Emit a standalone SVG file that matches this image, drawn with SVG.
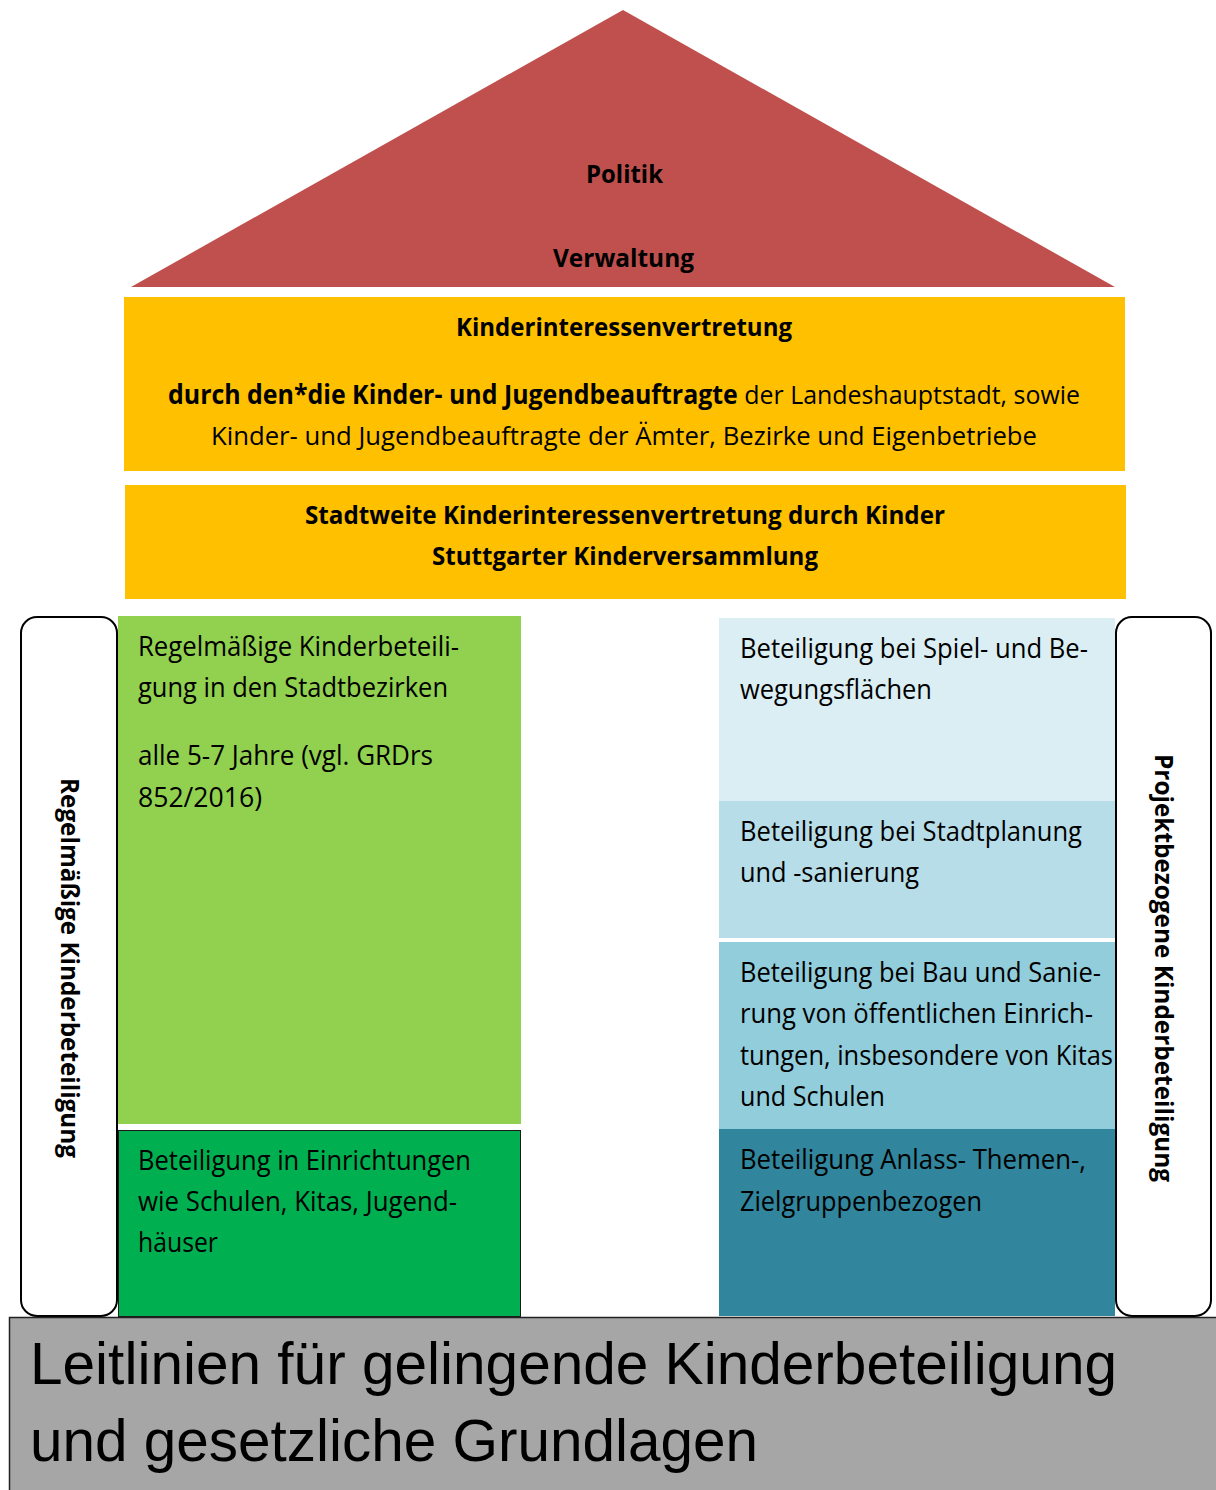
<svg xmlns="http://www.w3.org/2000/svg" width="1216" height="1490" viewBox="0 0 1216 1490">
<style>
.b{font-family:"Open Sans","Noto Sans",sans-serif;font-size:28px;fill:#000}
.h{font-family:"Open Sans","Noto Sans",sans-serif;font-size:25px;font-weight:bold;fill:#000}
.m{font-family:"Open Sans","Noto Sans",sans-serif;font-size:26px;fill:#000}
.v{font-family:"Open Sans","Noto Sans",sans-serif;font-size:25px;font-weight:bold;fill:#000}
.f{font-family:"Liberation Sans",Arial,sans-serif;font-size:60px;fill:#000}
.pill{fill:#fff;stroke:#000;stroke-width:2}
</style>
<rect width="1216" height="1490" fill="#fff"/>
<g id="roof">
<polygon points="623,10 131,287 1115,287" fill="#C0504D"/>
<text class="h" x="586" y="183" textLength="77" lengthAdjust="spacingAndGlyphs">Politik</text>
<text class="h" x="553" y="267" textLength="141" lengthAdjust="spacingAndGlyphs">Verwaltung</text>
</g>
<g id="kiv">
<rect x="124" y="297" width="1001" height="174" fill="#FFC000"/>
<text class="h" x="456" y="336" textLength="336" lengthAdjust="spacingAndGlyphs">Kinderinteressenvertretung</text>
<text class="m" x="168" y="404" textLength="912" lengthAdjust="spacingAndGlyphs"><tspan font-weight="bold">durch den*die Kinder- und Jugendbeauftragte</tspan> der Landeshauptstadt, sowie</text>
<text class="m" x="211" y="445" textLength="826" lengthAdjust="spacingAndGlyphs">Kinder- und Jugendbeauftragte der Ämter, Bezirke und Eigenbetriebe</text>
</g>
<g id="stadtweit">
<rect x="125" y="485" width="1001" height="114" fill="#FFC000"/>
<text class="h" x="305" y="524" textLength="640" lengthAdjust="spacingAndGlyphs">Stadtweite Kinderinteressenvertretung durch Kinder</text>
<text class="h" x="432" y="565" textLength="386" lengthAdjust="spacingAndGlyphs">Stuttgarter Kinderversammlung</text>
</g>
<g id="pillar-left">
<rect class="pill" x="21" y="617" width="96" height="699" rx="16"/>
<text class="v" transform="translate(61,968) rotate(90)" text-anchor="middle" textLength="380" lengthAdjust="spacingAndGlyphs">Regelmäßige Kinderbeteiligung</text>
</g>
<g id="pillar-right">
<rect class="pill" x="1116" y="617" width="95" height="699" rx="16"/>
<text class="v" transform="translate(1155,968) rotate(90)" text-anchor="middle" textLength="428" lengthAdjust="spacingAndGlyphs">Projektbezogene Kinderbeteiligung</text>
</g>
<g id="regelmaessig">
<rect x="118" y="616" width="403" height="508" fill="#92D050"/>
<text class="b" x="138" y="656" textLength="321" lengthAdjust="spacingAndGlyphs">Regelmäßige Kinderbeteili-</text>
<text class="b" x="138" y="697" textLength="310" lengthAdjust="spacingAndGlyphs">gung in den Stadtbezirken</text>
<text class="b" x="138" y="765" textLength="295" lengthAdjust="spacingAndGlyphs">alle 5-7 Jahre (vgl. GRDrs</text>
<text class="b" x="138" y="807" textLength="124" lengthAdjust="spacingAndGlyphs">852/2016)</text>
</g>
<g id="einrichtungen">
<rect x="118.5" y="1130.5" width="402" height="186" fill="#00B050" stroke="#1a1a1a" stroke-width="1"/>
<text class="b" x="138" y="1170" textLength="333" lengthAdjust="spacingAndGlyphs">Beteiligung in Einrichtungen</text>
<text class="b" x="138" y="1211" textLength="319" lengthAdjust="spacingAndGlyphs">wie Schulen, Kitas, Jugend-</text>
<text class="b" x="138" y="1252" textLength="80" lengthAdjust="spacingAndGlyphs">häuser</text>
</g>
<g id="spiel">
<rect x="719" y="618" width="396" height="183" fill="#DAEEF3"/>
<text class="b" x="740" y="658" textLength="348" lengthAdjust="spacingAndGlyphs">Beteiligung bei Spiel- und Be-</text>
<text class="b" x="740" y="699" textLength="192" lengthAdjust="spacingAndGlyphs">wegungsflächen</text>
</g>
<g id="stadtplanung">
<rect x="719" y="801" width="396" height="137" fill="#B7DDE8"/>
<text class="b" x="740" y="841" textLength="342" lengthAdjust="spacingAndGlyphs">Beteiligung bei Stadtplanung</text>
<text class="b" x="740" y="882" textLength="179" lengthAdjust="spacingAndGlyphs">und -sanierung</text>
</g>
<g id="bau">
<rect x="719" y="942" width="396" height="187" fill="#92CDDC"/>
<text class="b" x="740" y="982" textLength="361" lengthAdjust="spacingAndGlyphs">Beteiligung bei Bau und Sanie-</text>
<text class="b" x="740" y="1023" textLength="353" lengthAdjust="spacingAndGlyphs">rung von öffentlichen Einrich-</text>
<text class="b" x="740" y="1065" textLength="373" lengthAdjust="spacingAndGlyphs">tungen, insbesondere von Kitas</text>
<text class="b" x="740" y="1106" textLength="145" lengthAdjust="spacingAndGlyphs">und Schulen</text>
</g>
<g id="anlass">
<rect x="719" y="1129" width="396" height="187" fill="#31859C"/>
<text class="b" x="740" y="1169" textLength="346" lengthAdjust="spacingAndGlyphs">Beteiligung Anlass- Themen-,</text>
<text class="b" x="740" y="1211" textLength="242" lengthAdjust="spacingAndGlyphs">Zielgruppenbezogen</text>
</g>
<g id="fundament">
<rect x="9.5" y="1317.5" width="1210" height="180" fill="#A6A6A6" stroke="#222" stroke-width="1.5"/>
<text class="f" x="30" y="1384" textLength="1087" lengthAdjust="spacingAndGlyphs">Leitlinien für gelingende Kinderbeteiligung</text>
<text class="f" x="30" y="1461" textLength="728" lengthAdjust="spacingAndGlyphs">und gesetzliche Grundlagen</text>
</g>
<g id="connectors"></g>
</svg>
